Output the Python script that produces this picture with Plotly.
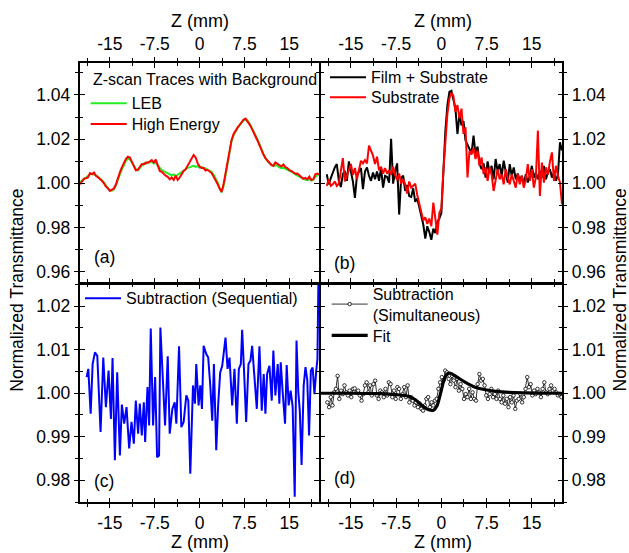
import numpy as np
import plotly.graph_objects as go

# ---------------- data ----------------
# (a) Z-scan traces with background, sampled every 1/3 mm from -20 to 20 mm
A_Z_START, A_Z_STOP = -20.0, 20.0
A_LEB = [1.0005, 1.0012, 1.0018, 1.0027, 1.0030, 1.0040, 1.0043, 1.0040, 1.0036, 1.0030,
         1.0022, 1.0012, 1.0004, 0.9990, 0.9978, 0.9968, 0.9966, 0.9972, 0.9990, 1.0018,
         1.0040, 1.0062, 1.0082, 1.0101, 1.0112, 1.0108, 1.0095, 1.0078, 1.0064, 1.0058,
         1.0070, 1.0080, 1.0090, 1.0088, 1.0096, 1.0093, 1.0100, 1.0090, 1.0095, 1.0080,
         1.0068, 1.0060, 1.0055, 1.0050, 1.0046, 1.0040, 1.0036, 1.0040, 1.0033, 1.0038,
         1.0045, 1.0050, 1.0058, 1.0064, 1.0070, 1.0072, 1.0078, 1.0080, 1.0074, 1.0078,
         1.0070, 1.0074, 1.0066, 1.0068, 1.0060, 1.0055, 1.0052, 1.0040, 1.0025, 1.0005,
         0.9980, 0.9958, 0.9985, 1.0035, 1.0095, 1.0148, 1.0190, 1.0218, 1.0236, 1.0250,
         1.0262, 1.0275, 1.0284, 1.0290, 1.0284, 1.0272, 1.0255, 1.0240, 1.0220, 1.0200,
         1.0178, 1.0152, 1.0133, 1.0115, 1.0100, 1.0092, 1.0085, 1.0078, 1.0082, 1.0080,
         1.0072, 1.0068, 1.0070, 1.0066, 1.0062, 1.0056, 1.0052, 1.0048, 1.0040, 1.0036,
         1.0032, 1.0026, 1.0020, 1.0016, 1.0014, 1.0018, 1.0012, 1.0016, 1.0030, 1.0038,
         1.0040]
A_HIGH = [0.9995, 1.0008, 1.0021, 1.0023, 1.0026, 1.0046, 1.0041, 1.0049, 1.0034, 1.0027,
          1.0021, 1.0011, 1.0000, 0.9985, 0.9977, 0.9965, 0.9971, 0.9976, 0.9994, 1.0026,
          1.0049, 1.0072, 1.0091, 1.0110, 1.0120, 1.0117, 1.0098, 1.0076, 1.0059, 1.0061,
          1.0072, 1.0087, 1.0085, 1.0094, 1.0093, 1.0099, 1.0105, 1.0094, 1.0107, 1.0082,
          1.0056, 1.0052, 1.0041, 1.0034, 1.0029, 1.0018, 1.0026, 1.0015, 1.0034, 1.0015,
          1.0026, 1.0041, 1.0056, 1.0064, 1.0079, 1.0094, 1.0110, 1.0128, 1.0117, 1.0091,
          1.0076, 1.0069, 1.0070, 1.0058, 1.0061, 1.0052, 1.0046, 1.0030, 1.0015, 0.9997,
          0.9976, 0.9962, 0.9995, 1.0045, 1.0105, 1.0155, 1.0195, 1.0222, 1.0240, 1.0252,
          1.0264, 1.0277, 1.0288, 1.0293, 1.0282, 1.0267, 1.0251, 1.0235, 1.0213, 1.0194,
          1.0171, 1.0146, 1.0130, 1.0114, 1.0101, 1.0093, 1.0082, 1.0079, 1.0094, 1.0088,
          1.0079, 1.0076, 1.0085, 1.0073, 1.0069, 1.0059, 1.0056, 1.0050, 1.0043, 1.0044,
          1.0035, 1.0027, 1.0020, 1.0024, 1.0018, 1.0030, 1.0015, 1.0017, 1.0041, 1.0044,
          1.0040]

# (b) film + substrate and bare substrate, 1/3 mm steps from -19 to 20 mm
B_Z_START, B_Z_STOP = -19.0, 20.0
B_FILM = [1.0041, 0.9995, 1.0023, 1.0053, 1.0072, 1.0087, 1.0011, 0.9983, 1.0041, 1.0056,
          1.0011, 1.0099, 1.0059, 1.0008, 0.9934, 1.0034, 1.0053, 1.0069, 0.9973, 1.0053,
          1.0072, 1.0034, 1.0011, 1.0049, 1.0018, 1.0053, 1.0011, 1.0069, 0.9980, 1.0034,
          1.0029, 1.0003, 1.0201, 0.9998, 1.0053, 1.0090, 0.9858, 1.0023, 1.0034, 0.9965,
          0.9992, 0.9942, 0.9938, 0.9977, 0.9916, 0.9931, 0.9892, 0.9851, 0.9813, 0.9749,
          0.9805, 0.9779, 0.9744, 0.9794, 0.9774, 0.9825, 0.9840, 0.9866, 1.0064, 1.0239,
          1.0354, 1.0414, 1.0419, 1.0376, 1.0338, 1.0224, 1.0312, 1.0262, 1.0282, 1.0194,
          1.0175, 1.0151, 1.0136, 1.0216, 1.0130, 1.0166, 1.0087, 1.0064, 1.0090, 1.0026,
          1.0099, 1.0049, 1.0079, 1.0018, 1.0110, 1.0053, 1.0087, 1.0034, 1.0102, 1.0053,
          1.0003, 1.0087, 1.0034, 1.0072, 1.0018, 1.0044, 1.0011, 1.0034, 0.9995, 1.0041,
          1.0003, 1.0034, 1.0079, 1.0026, 1.0049, 1.0018, 1.0056, 1.0026, 1.0079, 1.0018,
          1.0049, 1.0064, 1.0026, 1.0049, 1.0011, 1.0041, 1.0186, 1.0148]
B_SUBSTRATE = [0.9988, 1.0018, 0.9988, 0.9995, 1.0008, 0.9988, 0.9998, 1.0056, 1.0114, 1.0008,
               1.0034, 1.0059, 1.0087, 1.0038, 1.0069, 1.0018, 1.0059, 1.0102, 1.0090, 1.0105,
               1.0090, 1.0171, 1.0148, 1.0125, 1.0087, 1.0120, 1.0059, 1.0075, 1.0044, 1.0069,
               1.0044, 1.0059, 1.0038, 1.0075, 1.0038, 1.0014, 1.0044, 0.9998, 1.0018, 0.9995,
               0.9953, 1.0008, 0.9980, 0.9988, 0.9998, 0.9947, 0.9904, 0.9877, 0.9831, 0.9846,
               0.9816, 0.9840, 0.9805, 0.9912, 0.9835, 0.9767, 0.9866, 0.9886, 1.0056, 1.0209,
               1.0315, 1.0384, 1.0410, 1.0395, 1.0323, 1.0354, 1.0293, 1.0338, 1.0224, 1.0254,
               1.0026, 1.0148, 1.0130, 1.0160, 1.0110, 1.0148, 1.0079, 1.0117, 1.0041, 1.0072,
               1.0011, 1.0072, 1.0038, 0.9965, 1.0026, 1.0064, 1.0018, 1.0041, 0.9995, 1.0064,
               1.0026, 0.9995, 1.0041, 1.0011, 0.9980, 1.0041, 0.9995, 1.0034, 0.9980, 1.0018,
               1.0087, 1.0011, 1.0064, 0.9980, 1.0026, 1.0239, 0.9942, 1.0094, 1.0003, 1.0072,
               1.0038, 1.0099, 1.0140, 1.0011, 1.0079, 1.0034, 1.0003, 0.9904]

# (c) sequential subtraction
C_Z = [-18.89, -18.61, -18.22, -17.89, -17.5, -17.11, -16.56, -16.11, -15.67, -15.22,
       -14.83, -14.56, -14.17, -13.78, -13.33, -13.0, -12.61, -12.22, -11.78, -11.39,
       -11.0, -10.67, -10.28, -10.0, -9.67, -9.33, -9.11, -8.72, -8.44, -8.17,
       -7.78, -7.44, -7.11, -6.78, -6.56, -6.11, -5.78, -5.33, -5.0, -4.56,
       -4.17, -3.89, -3.44, -3.06, -2.67, -2.22, -1.89, -1.56, -1.11, -0.78,
       -0.56, -0.17, 0.11, 0.39, 0.67, 1.11, 1.44, 1.78, 2.11, 2.39,
       2.78, 3.11, 3.44, 3.78, 4.06, 4.33, 4.67, 5.0, 5.44, 5.83,
       6.22, 6.56, 6.89, 7.11, 7.44, 7.78, 8.17, 8.5, 8.78, 9.17,
       9.56, 10.0, 10.39, 10.72, 11.0, 11.28, 11.67, 12.06, 12.33, 12.67,
       13.06, 13.33, 13.56, 13.89, 14.28, 14.56, 14.89, 15.22, 15.56, 15.9,
       16.2, 16.5, 16.75, 17.05, 17.4, 17.7, 18.0, 18.3, 18.6, 18.9,
       19.2, 19.5, 19.7, 19.9]
C_SEQ = [1.0037, 1.0056, 0.9953, 1.0067, 1.0094, 1.0086, 0.9911, 1.0082, 0.9968, 1.0052,
         0.9941, 1.0081, 0.9846, 1.0048, 0.9857, 0.9974, 0.9930, 0.9968, 0.9873, 0.9934,
         0.9884, 0.9983, 0.9907, 0.9976, 0.9903, 0.9979, 0.9888, 1.0014, 0.9926, 1.0149,
         0.9926, 1.0037, 0.9853, 0.9857, 1.0151, 1.0010, 0.9926, 1.0085, 0.9907, 0.9964,
         0.9979, 0.9930, 1.0108, 0.9922, 0.9934, 0.9995, 0.9983, 0.9815, 1.0018, 0.9976,
         1.0067, 0.9972, 1.0018, 0.9964, 1.0109, 1.0090, 1.0082, 1.0018, 0.9937, 1.0067,
         0.9869, 0.9976, 1.0048, 1.0063, 1.0098, 1.0128, 1.0056, 1.0082, 0.9972, 1.0056,
         0.9930, 1.0056, 1.0067, 1.0146, 1.0048, 0.9934, 1.0067, 1.0075, 1.0109, 1.0033,
         0.9964, 1.0108, 0.9960, 1.0044, 0.9953, 1.0044, 1.0063, 0.9983, 1.0098, 0.9995,
         1.0067, 0.9976, 1.0071, 1.0002, 0.9930, 1.0065, 0.9972, 1.0006, 0.9968, 0.9762,
         1.0121, 1.0002, 0.9960, 0.9835, 1.0018, 1.0060, 1.0030, 0.9903, 1.0052, 1.0059,
         0.9998, 1.0052, 1.0079, 1.0300]

# (d) simultaneous subtraction, evenly stepped from -18.9 to 19.9 mm, plus fit
D_Z_START, D_Z_STOP = -18.9, 19.9
D_SIM = [0.9979, 0.9968, 0.9991, 0.9972, 1.0002, 1.0010, 1.0040, 0.9987, 1.0006, 0.9998,
         1.0018, 1.0002, 0.9995, 1.0006, 0.9991, 1.0010, 1.0011, 1.0002, 1.0006, 0.9995,
         0.9983, 0.9998, 1.0018, 1.0025, 1.0002, 1.0018, 0.9995, 1.0021, 1.0029, 0.9995,
         0.9987, 1.0006, 1.0002, 0.9991, 1.0010, 0.9995, 1.0025, 1.0021, 0.9991, 1.0006,
         0.9987, 1.0014, 1.0010, 0.9987, 0.9998, 1.0014, 0.9991, 1.0018, 0.9979, 0.9991,
         0.9983, 0.9972, 0.9979, 0.9968, 0.9976, 0.9964, 0.9960, 0.9972, 0.9987, 0.9991,
         0.9968, 0.9979, 0.9972, 0.9983, 0.9987, 1.0010, 1.0025, 1.0037, 1.0029, 1.0052,
         1.0048, 1.0033, 1.0021, 1.0040, 1.0029, 1.0014, 1.0033, 1.0006, 1.0021, 1.0010,
         0.9987, 0.9998, 0.9991, 1.0010, 0.9987, 1.0002, 0.9987, 0.9983, 1.0021, 1.0044,
         1.0029, 1.0033, 1.0018, 0.9995, 0.9987, 0.9998, 1.0010, 0.9991, 0.9998, 0.9987,
         1.0006, 0.9987, 0.9979, 0.9995, 0.9976, 0.9987, 0.9968, 0.9991, 0.9979, 0.9995,
         0.9964, 0.9983, 0.9987, 0.9998, 0.9979, 0.9991, 1.0010, 1.0037, 1.0014, 1.0021,
         0.9995, 1.0006, 0.9998, 1.0010, 1.0002, 0.9991, 1.0010, 1.0025, 1.0002, 0.9998,
         1.0010, 1.0018, 1.0006, 1.0010, 1.0002, 0.9995, 0.9998, 0.9991]
FIT_Z = [-20, -15, -10, -7.6, -5.4, -4.3, -3.2, -2.1, -1.3, -0.7, -0.15, 0.4, 0.96, 1.5,
         2.6, 4.0, 5.6, 7.3, 10, 14, 20]
FIT_T = [1.0, 1.0, 0.9999, 0.9997, 0.9993, 0.9985, 0.9972, 0.9962, 0.9961, 0.9972, 0.9999,
         1.0029, 1.0044, 1.0046, 1.0037, 1.0025, 1.0014, 1.0008, 1.0003, 1.0001, 1.0]

# axis ticks
Z_TICKS = [-15, -7.5, 0, 7.5, 15]
Z_TICK_TEXT = ["-15", "-7.5", "0", "7.5", "15"]
Z_MINOR = [-18.75, -11.25, -3.75, 3.75, 11.25, 18.75]
TOP_TICKS = [0.96, 0.98, 1.00, 1.02, 1.04]
TOP_TICK_TEXT = ["0.96", "0.98", "1.00", "1.02", "1.04"]
TOP_MINOR = [0.97, 0.99, 1.01, 1.03, 1.05]
BOT_TICKS = [0.98, 0.99, 1.00, 1.01, 1.02]
BOT_TICK_TEXT = ["0.98", "0.99", "1.00", "1.01", "1.02"]
BOT_MINOR = [0.975, 0.985, 0.995, 1.005, 1.015, 1.025]

Z_RANGE = [-20, 20]
TOP_RANGE = [0.955, 1.0545]
BOT_RANGE = [0.975, 1.0251]

# ---------------- figure ----------------
FONT = "Liberation Sans, Arial, Helvetica, sans-serif"
TICK_SIZE = 17.5
TITLE_SIZE = 18
LEG_SIZE = 16
AXIS_LW = 1.5

za = np.linspace(A_Z_START, A_Z_STOP, len(A_HIGH))
zb = np.linspace(B_Z_START, B_Z_STOP, len(B_FILM))
zd = np.linspace(D_Z_START, D_Z_STOP, len(D_SIM))

fig = go.Figure()

# (a)
fig.add_trace(go.Scatter(x=za, y=A_LEB, mode="lines", name="LEB",
                         line=dict(color="#22ee22", width=2), xaxis="x", yaxis="y", legend="legend"))
fig.add_trace(go.Scatter(x=za, y=A_HIGH, mode="lines", name="High Energy",
                         line=dict(color="#ff0000", width=2), xaxis="x", yaxis="y", legend="legend2"))
# (b)
fig.add_trace(go.Scatter(x=zb, y=B_FILM, mode="lines", name="Film + Substrate",
                         line=dict(color="#000000", width=2), xaxis="x2", yaxis="y2", legend="legend3"))
fig.add_trace(go.Scatter(x=zb, y=B_SUBSTRATE, mode="lines", name="Substrate",
                         line=dict(color="#ff0000", width=2), xaxis="x2", yaxis="y2", legend="legend4"))
# (c)
fig.add_trace(go.Scatter(x=C_Z, y=C_SEQ, mode="lines", name="Subtraction (Sequential)",
                         line=dict(color="#0000ff", width=2), xaxis="x3", yaxis="y3", legend="legend5"))
# (d)
fig.add_trace(go.Scatter(x=zd, y=D_SIM, mode="lines+markers", name="Subtraction<br>(Simultaneous)",
                         line=dict(color="#000000", width=0.8),
                         marker=dict(symbol="circle", size=3.5, color="white",
                                     line=dict(color="black", width=0.8)),
                         xaxis="x4", yaxis="y4", legend="legend6"))
fig.add_trace(go.Scatter(x=FIT_Z, y=FIT_T, mode="lines", name="Fit",
                         line=dict(color="#000000", width=3.2, shape="spline", smoothing=0.8),
                         xaxis="x4", yaxis="y4", legend="legend7"))

# invisible traces that carry the inward-tick overlay axes
for k in range(5, 9):
    fig.add_trace(go.Scatter(x=[None], y=[None], xaxis=f"x{k}", yaxis=f"y{k}",
                             showlegend=False, hoverinfo="skip"))

# panel domains; the gap equals the axis line width so that neighbouring frames share one line
PLOT_W, PLOT_H = 629 - 80 - 67, 553 - 63 - 51
GX = AXIS_LW / PLOT_W
GY = AXIS_LW / PLOT_H
XM, YM = 0.4979, 0.4982
dom_x = {1: [0, XM - GX / 2], 2: [XM + GX / 2, 1], 3: [0, XM - GX / 2], 4: [XM + GX / 2, 1]}
dom_y = {1: [YM + GY / 2, 1], 2: [YM + GY / 2, 1], 3: [0, YM - GY / 2], 4: [0, YM - GY / 2]}
x_side = {1: "top", 2: "top", 3: "bottom", 4: "bottom"}
y_side = {1: "left", 2: "right", 3: "left", 4: "right"}


def x_axis(i, inward=False):
    d = dict(range=Z_RANGE, tickmode="array", tickvals=Z_TICKS, ticktext=Z_TICK_TEXT,
             ticks="inside" if inward else "outside", ticklen=4.5, tickwidth=1.3, tickcolor="black",
             showgrid=False, zeroline=False, mirror="ticks", side=x_side[i], automargin=False,
             minor=dict(tickmode="array", tickvals=Z_MINOR, ticks="inside" if inward else "outside",
                        ticklen=3, tickwidth=1.3, tickcolor="black", showgrid=False),
             tickfont=dict(family=FONT, size=TICK_SIZE, color="black"))
    if inward:
        d.update(overlaying="x" if i == 1 else f"x{i}", showticklabels=False, showline=False)
    else:
        d.update(domain=dom_x[i], anchor="y" if i == 1 else f"y{i}", showline=True,
                 linecolor="black", linewidth=AXIS_LW)
    return d


def y_axis(i, inward=False):
    top = i in (1, 2)
    d = dict(range=TOP_RANGE if top else BOT_RANGE, tickmode="array",
             tickvals=TOP_TICKS if top else BOT_TICKS,
             ticktext=TOP_TICK_TEXT if top else BOT_TICK_TEXT,
             ticks="inside" if inward else "outside", ticklen=4.5, tickwidth=1.3, tickcolor="black",
             showgrid=False, zeroline=False, mirror="ticks", side=y_side[i], automargin=False,
             minor=dict(tickmode="array", tickvals=TOP_MINOR if top else BOT_MINOR,
                        ticks="inside" if inward else "outside",
                        ticklen=3, tickwidth=1.3, tickcolor="black", showgrid=False),
             tickfont=dict(family=FONT, size=TICK_SIZE, color="black"))
    if inward:
        d.update(overlaying="y" if i == 1 else f"y{i}", showticklabels=False, showline=False)
    else:
        d.update(domain=dom_y[i], anchor="x" if i == 1 else f"x{i}", showline=True,
                 linecolor="black", linewidth=AXIS_LW)
    return d


layout = dict(
    width=629, height=553,
    margin=dict(l=80, r=67, t=63, b=51, autoexpand=False),
    paper_bgcolor="white", plot_bgcolor="white",
    font=dict(family=FONT, size=TICK_SIZE, color="black"),
    showlegend=True,
)
for i in range(1, 5):
    layout["xaxis" if i == 1 else f"xaxis{i}"] = x_axis(i)
    layout["yaxis" if i == 1 else f"yaxis{i}"] = y_axis(i)
    layout[f"xaxis{i + 4}"] = x_axis(i, inward=True)
    layout[f"yaxis{i + 4}"] = y_axis(i, inward=True)
    layout[f"xaxis{i + 4}"]["anchor"] = f"y{i + 4}"
    layout[f"yaxis{i + 4}"]["anchor"] = f"x{i + 4}"

# one legend per entry so every entry sits at its own place
leg_common = dict(bgcolor="rgba(0,0,0,0)", borderwidth=0, xanchor="left", yanchor="middle",
                  font=dict(family=FONT, size=LEG_SIZE, color="black"), itemwidth=36)
legend_pos = {
    "legend": (0.0118, 0.9082),
    "legend2": (0.0118, 0.861),
    "legend3": (0.5083, 0.9674),
    "legend4": (0.5083, 0.9219),
    "legend5": (0.0, 0.464),
    "legend7": (0.5118, 0.3793),
}
for key, (x, y) in legend_pos.items():
    layout[key] = dict(leg_common, x=x, y=y)
layout["legend6"] = dict(leg_common, x=0.5118, y=0.513, yanchor="top")

fig.update_layout(**layout)

# legend heading of panel (a)
fig.add_annotation(text="Z-scan Traces with Background", xref="paper", yref="paper",
                   x=0.0222, y=0.9613, xanchor="left", yanchor="middle", showarrow=False,
                   font=dict(family=FONT, size=LEG_SIZE, color="black"))

# x titles: above the upper panels, below the lower panels
for x in (0.249, 0.7537):
    for y in (1.0964, -0.0904):
        fig.add_annotation(text="Z (mm)", xref="paper", yref="paper", x=x, y=y,
                           xanchor="center", yanchor="middle", showarrow=False,
                           font=dict(family=FONT, size=TITLE_SIZE, color="black"))

# panel tags and shared y titles
tags = [("(a)", 0.024, 0.558), ("(b)", 0.522, 0.544), ("(c)", 0.024, 0.0485), ("(d)", 0.522, 0.054)]
for txt, x, y in tags:
    fig.add_annotation(text=txt, xref="paper", yref="paper", x=x, y=y, xanchor="left",
                       yanchor="middle", showarrow=False,
                       font=dict(family=FONT, size=TICK_SIZE, color="black"))
for x in (-0.1313, 1.1193):
    fig.add_annotation(text="Normalized Transmittance", xref="paper", yref="paper", x=x, y=0.483,
                       xanchor="center", yanchor="middle", textangle=-90, showarrow=False,
                       font=dict(family=FONT, size=TICK_SIZE, color="black"))

fig.write_html("out.html")
